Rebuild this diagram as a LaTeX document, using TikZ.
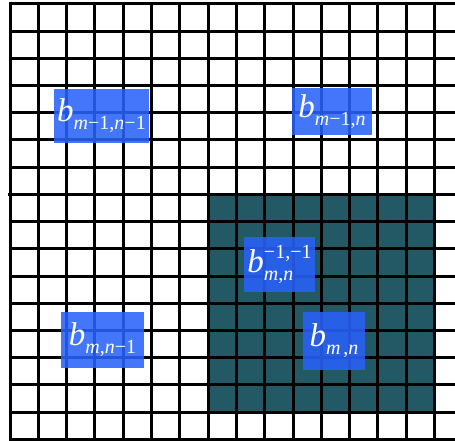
\documentclass[tikz,border=0pt]{standalone}
\usepackage{fontspec}
\setmainfont{Liberation Serif}
\definecolor{tealblk}{RGB}{34,89,100}
\definecolor{blu}{RGB}{40,98,250}
\newcommand{\bb}{{\fontsize{33}{33}\selectfont\itshape b}}
\newcommand{\bsub}[1]{\raisebox{-8pt}{\fontsize{20}{20}\selectfont #1}}
\newcommand{\bsupr}[1]{\raisebox{14pt}{\fontsize{20}{20}\selectfont #1}}
\newcommand{\vmi}{\textit{m}}
\newcommand{\vni}{\textit{n}}
\begin{document}
\begin{tikzpicture}[x=1pt,y=-1pt,
  gridline/.style={line width=3pt,black,line cap=rect},
  thickline/.style={line width=3.8pt,black,line cap=rect},
  blk/.style={fill=blu,fill opacity=0.87,text opacity=1,text=white,inner sep=0pt}]
\useasboundingbox (0,0) rectangle (455,441);
\clip (0,0) rectangle (455,441);
\fill[white] (0,0) rectangle (455,441);
\fill[tealblk] (207.3,194.4) rectangle (434.3,412);
\foreach \k in {0,...,15} \draw[gridline] (10+28.3*\k,4) -- (10+28.3*\k,439.2);
\foreach \k in {0,...,16} \draw[gridline] (10,4+27.2*\k) -- (456,4+27.2*\k);
\draw[thickline] (236.4,4) -- (236.4,439.2);
\draw[thickline] (10,194.4) -- (456,194.4);
\node[blk,minimum width=95pt,minimum height=54pt] (b11) at (101.5,116) {\bb\bsub{\vmi−1,\vni−1}};
\node[blk,minimum width=80pt,minimum height=47pt] (b12) at (332,111.5) {\bb\bsub{\vmi−1,\vni}};
\node[blk,minimum width=71pt,minimum height=55pt] (binv) at (279.5,264.5) {\bb\rlap{\bsub{\vmi,\vni}}\bsupr{−1,−1}};
\node[blk,minimum width=83pt,minimum height=56pt] (b21) at (102.5,340) {\bb\bsub{\vmi,\vni−1}};
\node[blk,minimum width=62pt,minimum height=58pt] (b22) at (334,341) {\bb\bsub{\vmi\hspace{3pt},\vni}};
\end{tikzpicture}
\end{document}
